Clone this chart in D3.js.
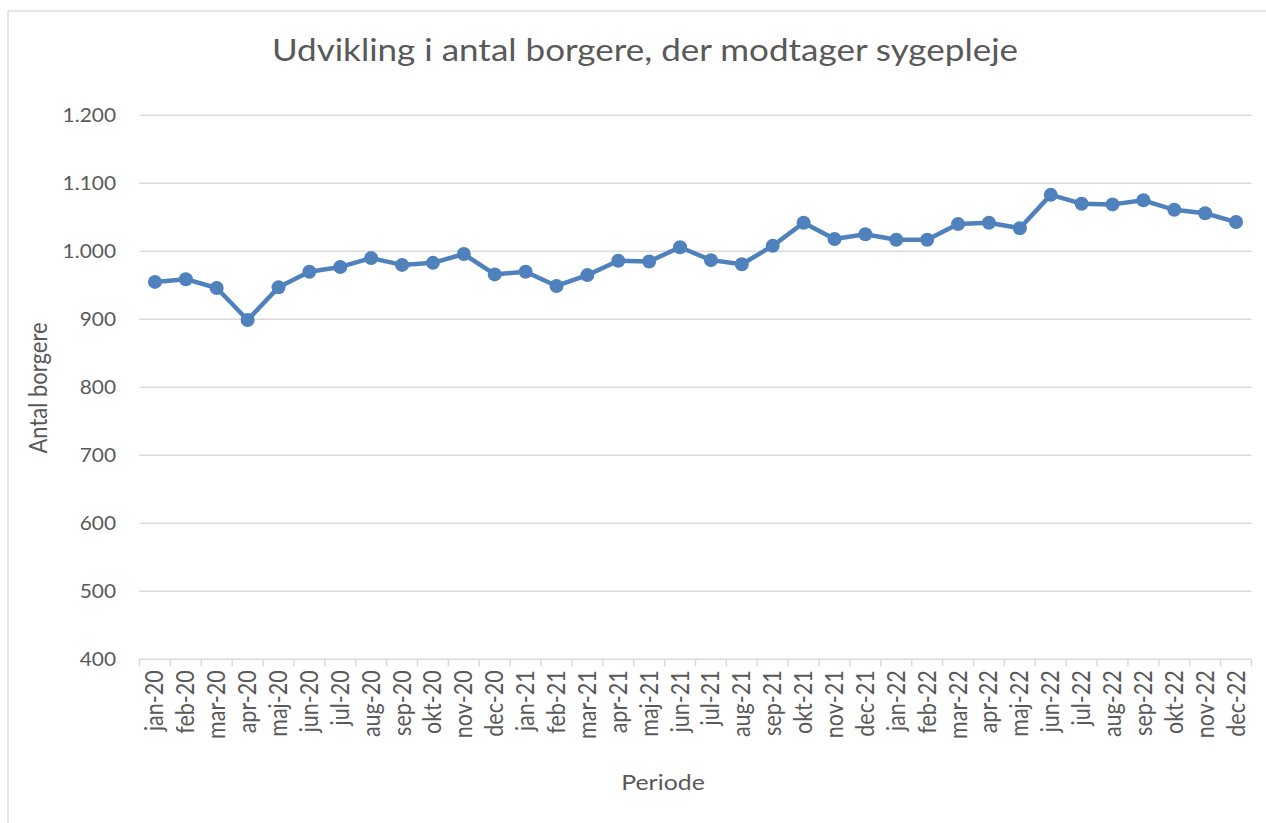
<!DOCTYPE html>
<html><head><meta charset="utf-8">
<script src="https://cdn.jsdelivr.net/npm/d3@7"></script>
<style>
body{margin:0;background:#fff;}
text{font-family:Lato,"Open Sans",sans-serif;fill:#595959;}
</style></head>
<body><svg id="c" width="1266" height="823"></svg>
<script>
const categories = ["jan-20","feb-20","mar-20","apr-20","maj-20","jun-20","jul-20","aug-20","sep-20","okt-20","nov-20","dec-20",
"jan-21","feb-21","mar-21","apr-21","maj-21","jun-21","jul-21","aug-21","sep-21","okt-21","nov-21","dec-21",
"jan-22","feb-22","mar-22","apr-22","maj-22","jun-22","jul-22","aug-22","sep-22","okt-22","nov-22","dec-22"];
const values = [955,959,946,899,947,970,977,990,980,983,996,966,
970,949,965,986,985,1006,987,981,1008,1042,1018,1025,
1017,1017,1040,1042,1034,1083,1070,1069,1075,1061,1056,1043];
const yTicks = [400,500,600,700,800,900,1000,1100,1200];
const title = "Udvikling i antal borgere, der modtager sygepleje";
const yTitle = "Antal borgere";
const xTitle = "Periode";

const svg = d3.select("#c");
const m = {left:139.5, right:1251.5, top:115.3, bottom:659.3};
const SX = 1.13; // horizontal glyph stretch seen in the reference

svg.append("rect").attr("x",8).attr("y",11).attr("width",1270).attr("height",830)
  .attr("fill","#fff").attr("stroke","#d9d9d9").attr("stroke-width",1.3);

const x = d3.scaleBand().domain(categories).range([m.left,m.right]);
const y = d3.scaleLinear().domain([400,1200]).range([m.bottom,m.top]);
const fmt = v => d3.format(",")(v).replace(/,/g,".");

svg.append("g").selectAll("line").data(yTicks).join("line")
  .attr("x1",m.left).attr("x2",m.right)
  .attr("y1",d=>y(d)).attr("y2",d=>y(d))
  .attr("stroke","#d9d9d9").attr("stroke-width",1.5);

svg.append("g").selectAll("text").data(yTicks).join("text")
  .attr("transform",d=>`translate(116,${y(d)}) scale(${SX},1)`).attr("dy","0.35em")
  .attr("text-anchor","end").attr("font-size",18.5).text(fmt);

const xAxis = d3.axisBottom(x).tickSize(0).tickFormat(d=>d);
const gx = svg.append("g").attr("transform",`translate(0,${m.bottom})`).call(xAxis);
gx.select(".domain").remove();
gx.selectAll(".tick text").attr("transform",`scale(${SX},1) rotate(-90)`)
  .attr("x",-11).attr("y",0).attr("dy","0.35em").attr("text-anchor","end")
  .attr("font-size",21.5).attr("fill","#595959").style("font-family","Lato,'Open Sans',sans-serif");
const bounds = categories.map(c=>x(c)).concat([x(categories[categories.length-1])+x.bandwidth()]);
svg.append("g").selectAll("line").data(bounds).join("line")
  .attr("x1",d=>d).attr("x2",d=>d).attr("y1",m.bottom).attr("y2",m.bottom+7)
  .attr("stroke","#d9d9d9").attr("stroke-width",1.5);

const cx = d=>x(d)+x.bandwidth()/2;
const line = d3.line().x((d,i)=>cx(categories[i])).y(d=>y(d));
svg.append("path").datum(values).attr("d",line).attr("fill","none")
  .attr("stroke","#4f81bd").attr("stroke-width",4.5).attr("stroke-linejoin","round");
svg.append("g").selectAll("circle").data(values).join("circle")
  .attr("cx",(d,i)=>cx(categories[i])).attr("cy",d=>y(d)).attr("r",7).attr("fill","#4f81bd");

svg.append("text").attr("transform",`translate(645,61) scale(${SX},1)`).attr("text-anchor","middle")
  .attr("font-size",31).text(title);
svg.append("text").attr("transform",`translate(47,388) scale(${SX},1) rotate(-90)`)
  .attr("text-anchor","middle").attr("font-size",22).text(yTitle);
svg.append("text").attr("transform",`translate(663,790) scale(${SX},1)`).attr("text-anchor","middle")
  .attr("font-size",22).text(xTitle);
</script></body></html>
